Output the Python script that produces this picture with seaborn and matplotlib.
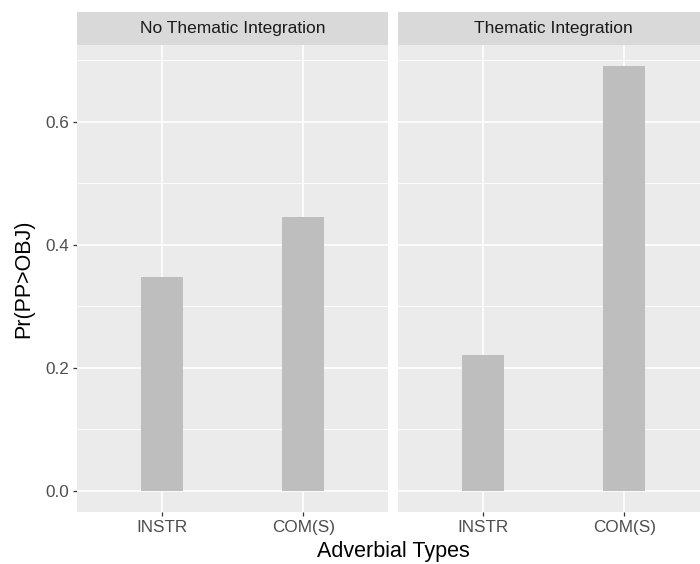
import matplotlib
matplotlib.use("Agg")
import matplotlib.pyplot as plt
import seaborn as sns
import pandas as pd

panels = ["No Thematic Integration", "Thematic Integration"]
categories = ["INSTR", "COM(S)"]
no_thematic = [0.348, 0.445]
thematic = [0.221, 0.691]
y_ticks = [0.0, 0.2, 0.4, 0.6]
y_minor = [0.1, 0.3, 0.5, 0.7]

df = pd.DataFrame({
    "panel": [panels[0]] * 2 + [panels[1]] * 2,
    "type": categories * 2,
    "p": no_thematic + thematic,
})

sns.set_theme(style="white")
plt.rcParams['font.family'] = ['Liberation Sans', 'DejaVu Sans']

W, H = 700, 564
fig = plt.figure(figsize=(7, 5.64), dpi=100)

def fx(px):
    return px / W

def fy(py):
    return 1 - py / H

panel_x = [(77, 388), (398, 709)]
ptop, pbot = 45, 512
strip_top = 12

ymin, ymax = -0.0345, 0.7245
tick_col = "#4D4D4D"

for i, (pname, (x0, x1)) in enumerate(zip(panels, panel_x)):
    ax = fig.add_axes([fx(x0), fy(pbot), fx(x1 - x0), (pbot - ptop) / H])
    ax.set_facecolor("#EBEBEB")
    sub = df[df.panel == pname]
    sns.barplot(data=sub, x="type", y="p", order=categories, color="#BEBEBE",
                width=0.3, saturation=1, ax=ax, zorder=3, errorbar=None)
    for b in ax.patches:
        b.set_edgecolor("none")
    ax.set_xlim(-0.6, 1.6)
    ax.set_ylim(ymin, ymax)
    for yv in y_ticks:
        ax.axhline(yv, color="white", lw=1.2, zorder=1)
    for yv in y_minor:
        ax.axhline(yv, color="white", lw=0.6, zorder=1)
    for xv in range(len(categories)):
        ax.axvline(xv, color="white", lw=1.2, zorder=1)
    for s in ax.spines.values():
        s.set_visible(False)
    ax.set_yticks(y_ticks)
    ax.tick_params(axis="both", length=3, width=0.9, color="#333333",
                   labelcolor=tick_col, labelsize=12.3, bottom=True, left=(i == 0), pad=2.5)
    if i == 0:
        ax.set_yticklabels([f"{v:.1f}" for v in y_ticks])
    else:
        ax.set_yticklabels([])
    ax.set_xlabel("")
    ax.set_ylabel("")
    # strip
    sax = fig.add_axes([fx(x0), fy(ptop), fx(x1 - x0), (ptop - strip_top) / H])
    sax.set_facecolor("#D9D9D9")
    sax.set_xticks([]); sax.set_yticks([])
    for s in sax.spines.values():
        s.set_visible(False)
    sax.text(0.5, 0.5, pname, ha="center", va="center", fontsize=12.5,
             color="#1A1A1A", transform=sax.transAxes)

fig.text(fx(393), fy(552), "Adverbial Types", ha="center", va="center",
         fontsize=15.5, color="black")
fig.text(fx(24), fy(279), "Pr(PP>OBJ)", ha="center", va="center",
         fontsize=15.5, rotation=90, color="black")

fig.savefig("out.png", dpi=100, facecolor="white")
